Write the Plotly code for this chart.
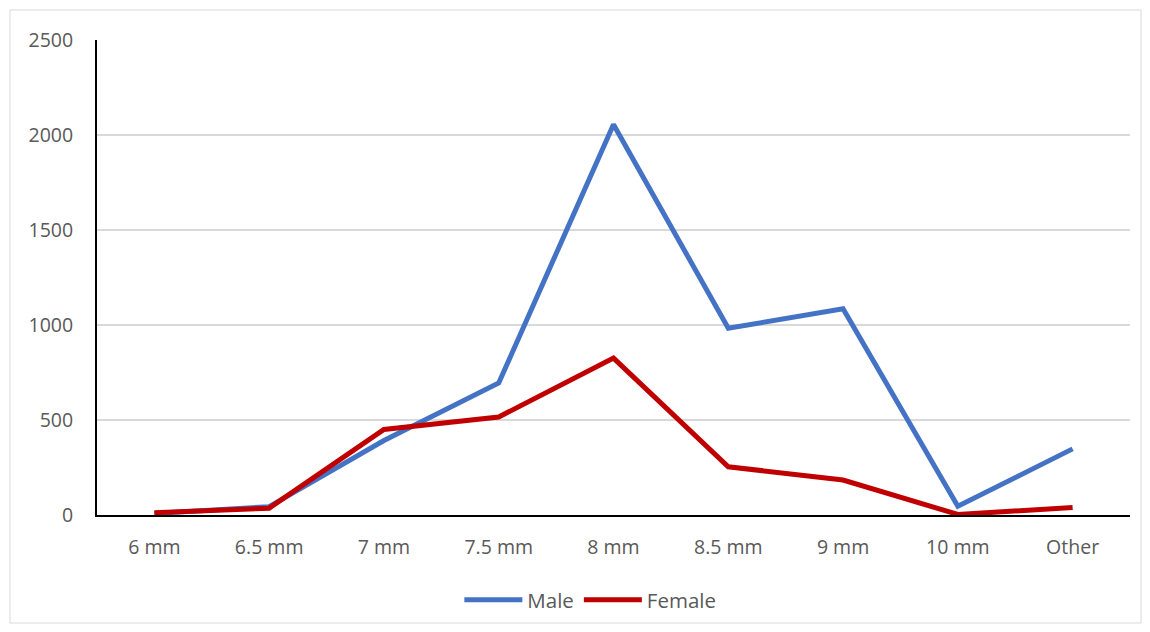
import plotly.graph_objects as go

categories = ["6 mm", "6.5 mm", "7 mm", "7.5 mm", "8 mm", "8.5 mm", "9 mm", "10 mm", "Other"]
male = [8, 44, 392, 695, 2055, 983, 1085, 46, 348]
female = [12, 36, 450, 516, 826, 254, 184, 3, 39]

# page has an 8px body margin; compensate so the plot area lands at x 97..1130, y 40..515
OFF = 8
W, H = 1134, 616
L, R, T, B = 97 - OFF, 12, 40 - OFF, 109
pw, ph = W - L - R, H - T - B

fig = go.Figure()
fig.add_trace(go.Scatter(x=categories, y=male, name="Male", mode="lines",
                         line=dict(color="#4472C4", width=5)))
fig.add_trace(go.Scatter(x=categories, y=female, name="Female   ", mode="lines",
                         line=dict(color="#C00000", width=5)))

font = dict(family="Open Sans, Liberation Sans, sans-serif", size=19.5, color="#595959")

def px_x(x):
    return (x - OFF - L) / pw

def px_y(y):
    return (H - B - (y - OFF)) / ph

fig.update_layout(
    width=W, height=H,
    margin=dict(l=L, r=R, t=T, b=B, autoexpand=False),
    paper_bgcolor="white", plot_bgcolor="white",
    font=font,
    showlegend=True,
    legend=dict(orientation="h", xref="container", yref="container",
                x=(587 - OFF) / W + 0.01, xanchor="center",
                y=1 - (600 - OFF) / H, yanchor="middle",
                font=dict(family=font["family"], size=20.5, color="#595959"),
                itemwidth=58, tracegroupgap=0),
    xaxis=dict(type="category", range=[-0.5, 8.5], showgrid=False,
               showline=True, linecolor="black", linewidth=2, ticks="",
               ticklabelstandoff=14, tickfont=font, zeroline=False),
    yaxis=dict(range=[0, 2500], tickvals=[0, 500, 1000, 1500, 2000, 2500],
               showgrid=True, gridcolor="#d9d9d9", gridwidth=1.5,
               showline=True, linecolor="black", linewidth=2, ticks="",
               ticklabelstandoff=18, tickfont=font, zeroline=False),
    shapes=[dict(type="rect", xref="paper", yref="paper",
                 x0=px_x(10), x1=px_x(1141), y0=px_y(623), y1=px_y(10),
                 line=dict(color="#d9d9d9", width=1), layer="below")],
)

fig.write_html("out.html")
